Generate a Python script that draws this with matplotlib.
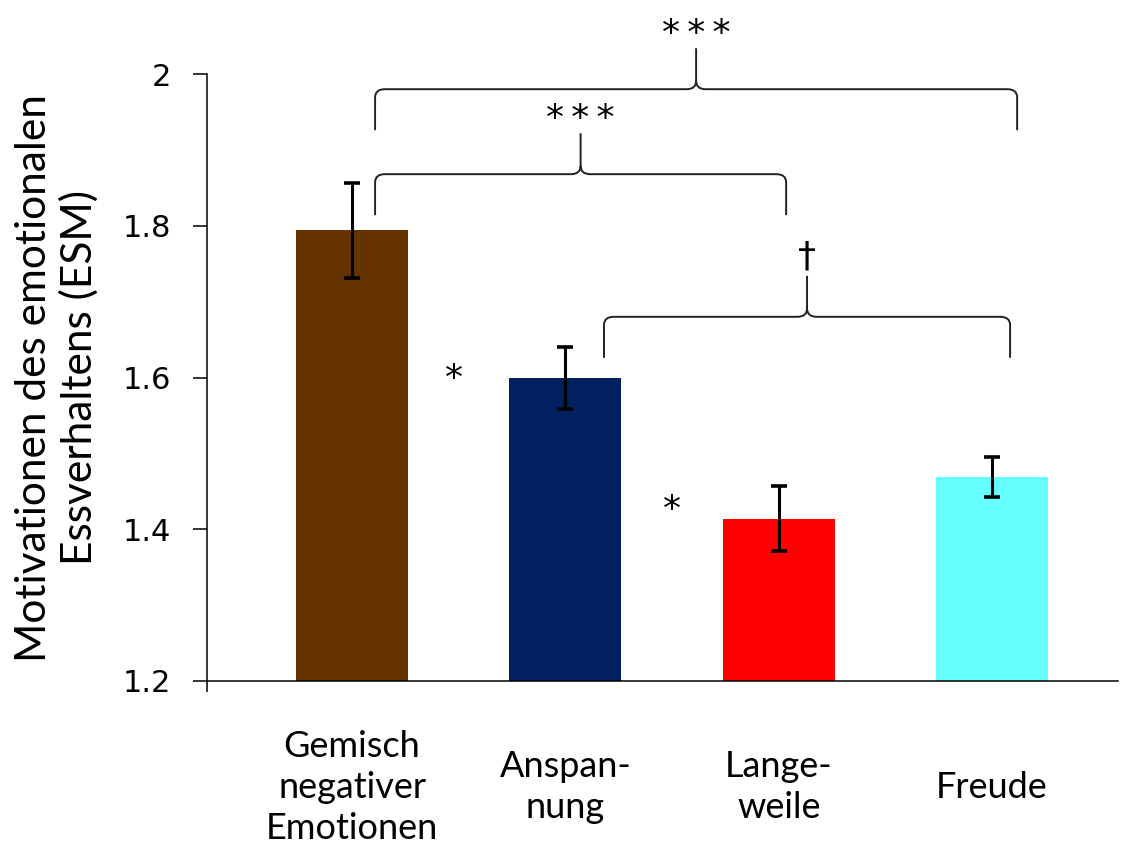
import matplotlib.pyplot as plt
from matplotlib.path import Path
from matplotlib.patches import PathPatch

# Mean motivation scores per emotion with standard errors
categories = ['Gemisch\nnegativer\nEmotionen', 'Anspan-\nnung', 'Lange-\nweile', 'Freude']
means = [1.794, 1.599, 1.414, 1.469]
errors = [0.063, 0.041, 0.043, 0.026]
colors = ['#663300', '#002060', '#ff0000', '#66ffff']

# Significance brackets: (left, right, label)
brackets = [(0, 3, '*\u2009*\u2009*'), (0, 2, '*\u2009*\u2009*'), (1, 3, '\u2020')]
single_stars = [(0.48, 1.598), (1.50, 1.426)]

fig = plt.figure(figsize=(11.33, 8.51), dpi=100)
ax = fig.add_axes([0.1827, 0.1998, 0.8041, 0.7132])

x = list(range(len(categories)))
ax.bar(x, [m - 1.2 for m in means], bottom=1.2, width=0.525, color=colors,
       zorder=2)
ax.errorbar(x, means, yerr=errors, fmt='none', ecolor='black', elinewidth=2.2,
            capsize=5.5, capthick=2.6, zorder=3)

ax.set_xlim(-0.68, 3.591)
ax.set_ylim(1.2, 2.0)
ax.set_yticks([1.2, 1.4, 1.6, 1.8, 2.0])
ax.set_yticklabels(['1.2', '1.4', '1.6', '1.8', '2'])
ax.tick_params(axis='y', direction='out', length=10, width=1.1, pad=16,
               labelsize=22, labelfontfamily='DejaVu Sans')
ax.set_xticks([-0.68])
ax.set_xticklabels([''])
ax.tick_params(axis='x', direction='out', length=8, width=1.1)
for s in ['top', 'right']:
    ax.spines[s].set_visible(False)
for s in ['left', 'bottom']:
    ax.spines[s].set_linewidth(1.1)

for xi, lab in zip(x, categories):
    ax.text(xi, -0.175, lab, transform=ax.get_xaxis_transform(), ha='center',
            va='center', fontsize=26, family='Lato', linespacing=1.3,
            multialignment='center')

fig.text(0.05, 0.556, 'Motivationen des emotionalen\nEssverhaltens (ESM)',
         rotation=90, ha='center', va='center', fontsize=30.5, family='Lato',
         linespacing=1.2)


def brace(x0, x1, yh, drop, rise, rx=0.045, ry=0.011):
    xm = (x0 + x1) / 2
    verts = [(x0, yh - drop), (x0, yh - ry), (x0, yh), (x0 + rx, yh),
             (xm - rx, yh), (xm, yh), (xm, yh + ry), (xm, yh + rise),
             (xm, yh + ry), (xm, yh), (xm + rx, yh),
             (x1 - rx, yh), (x1, yh), (x1, yh - ry), (x1, yh - drop)]
    codes = [Path.MOVETO, Path.LINETO, Path.CURVE3, Path.CURVE3,
             Path.LINETO, Path.CURVE3, Path.CURVE3, Path.LINETO,
             Path.MOVETO, Path.CURVE3, Path.CURVE3,
             Path.LINETO, Path.CURVE3, Path.CURVE3, Path.LINETO]
    ax.add_patch(PathPatch(Path(verts, codes), fill=False, lw=1.4,
                           edgecolor='#222222', clip_on=False, zorder=4))
    return xm


levels = [1.980, 1.868, 1.680]
for (a, b, lab), yh in zip(brackets, levels):
    xa = a + 0.108 if a == 0 else a + 0.181
    xb = b + 0.118 if b == 3 else b + 0.035
    if b == 3 and a == 1:
        xb = b + 0.085
    xm = brace(xa, xb, yh, 0.054, 0.054)
    off = 0.057 if lab == '\u2020' else 0.050
    ax.text(xm, yh + off, lab, ha='center', va='bottom', fontsize=26,
            family='DejaVu Sans', clip_on=False)

for sx, sy in single_stars:
    ax.text(sx, sy, '*', ha='center', va='center', fontsize=26,
            family='DejaVu Sans')

fig.savefig('out.png', dpi=100)
